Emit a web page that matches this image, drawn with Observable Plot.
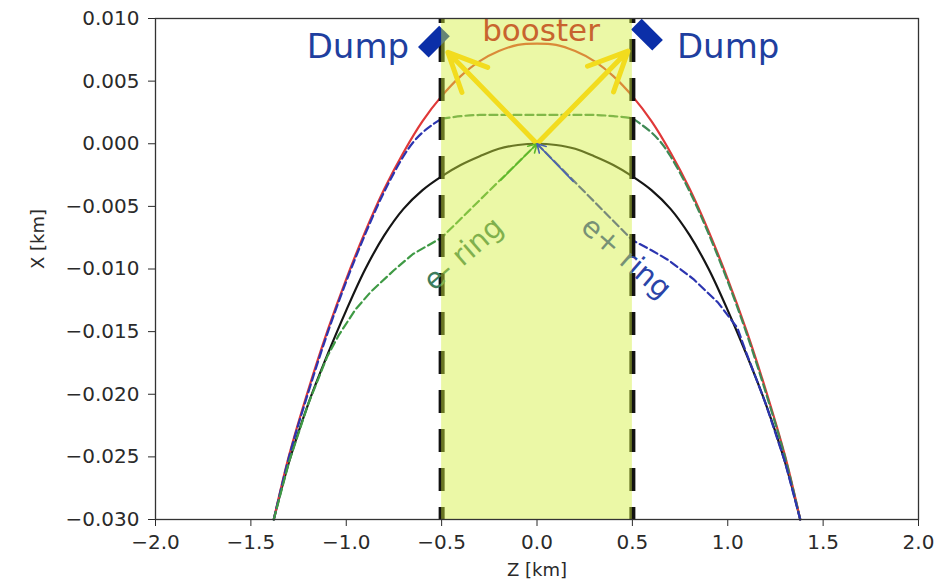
<!DOCTYPE html>
<html><head><meta charset="utf-8">
<script src="https://cdn.jsdelivr.net/npm/d3@7"></script>
<script src="https://cdn.jsdelivr.net/npm/@observablehq/plot@0.6"></script>
<style>body{margin:0;background:#fff;overflow:hidden;}</style>
</head><body><div id="chart"></div>
<script>
// ---- axis ticks ----
const xTicks = [-2.0, -1.5, -1.0, -0.5, 0.0, 0.5, 1.0, 1.5, 2.0];
const yTicks = [-0.030, -0.025, -0.020, -0.015, -0.010, -0.005, 0.000, 0.005, 0.010];

// ---- series: [Z km, X km] ----
const booster = [[-1.38,-0.0300],[-1.30,-0.0249],[-1.20,-0.0197],[-1.10,-0.0150],[-1.00,-0.0108],[-0.90,-0.0070],[-0.80,-0.0036],[-0.70,-0.0007],[-0.60,0.0018],[-0.50,0.0038],[-0.40,0.0054],[-0.30,0.0066],[-0.20,0.0074],[-0.10,0.0079],[0.00,0.0080],[0.10,0.0079],[0.20,0.0074],[0.30,0.0066],[0.40,0.0054],[0.50,0.0038],[0.60,0.0018],[0.70,-0.0007],[0.80,-0.0036],[0.90,-0.0070],[1.00,-0.0108],[1.10,-0.0150],[1.20,-0.0197],[1.30,-0.0249],[1.38,-0.0300]];
const mainRing = [[-1.38,-0.0300],[-1.30,-0.0254],[-1.20,-0.0208],[-1.10,-0.0169],[-1.00,-0.0133],[-0.90,-0.0100],[-0.80,-0.0073],[-0.70,-0.0052],[-0.60,-0.0037],[-0.50,-0.0026],[-0.40,-0.0017],[-0.30,-0.0010],[-0.20,-0.0004],[-0.10,-0.0001],[0.00,0.0000],[0.10,-0.0001],[0.20,-0.0004],[0.30,-0.0010],[0.40,-0.0017],[0.50,-0.0026],[0.60,-0.0037],[0.70,-0.0052],[0.80,-0.0073],[0.90,-0.0100],[1.00,-0.0133],[1.10,-0.0169],[1.20,-0.0208],[1.30,-0.0254],[1.38,-0.0300]];
const positronTop = [[-1.38,-0.0300],[-1.30,-0.0250],[-1.20,-0.0199],[-1.10,-0.0152],[-1.00,-0.0110],[-0.90,-0.0072],[-0.80,-0.0038],[-0.70,-0.0010],[-0.65,0.0001],[-0.60,0.0009],[-0.55,0.0015],[-0.50,0.0020]];
const electronTop = [[-0.50,0.0020],[-0.40,0.0022],[-0.30,0.0023],[-0.20,0.0023],[-0.10,0.0023],[0.00,0.0023],[0.10,0.0023],[0.20,0.0023],[0.30,0.0023],[0.40,0.0022],[0.50,0.0020],[0.55,0.0015],[0.60,0.0009],[0.65,0.0001],[0.70,-0.0010],[0.80,-0.0038],[0.90,-0.0072],[1.00,-0.0110],[1.10,-0.0152],[1.20,-0.0199],[1.30,-0.0250],[1.38,-0.0300]];
const electronRing = [[-1.38,-0.0300],[-1.30,-0.0254],[-1.20,-0.0208],[-1.10,-0.0170],[-1.04,-0.0153],[-0.95,-0.0132],[-0.87,-0.0118],[-0.75,-0.0101],[-0.65,-0.0088],[-0.50,-0.0075],[0.00,0.0000]];
const positronRing = [[0.00,0.0000],[0.50,-0.0077],[0.60,-0.0085],[0.69,-0.0093],[0.82,-0.0108],[0.95,-0.0127],[1.05,-0.0147],[1.10,-0.0168],[1.20,-0.0208],[1.30,-0.0254],[1.38,-0.0300]];

// ---- annotations ----
const bandZ = [-0.5, 0.5];
const boosterTips = [[-0.467, 0.0073], [0.477, 0.0074]];
const ringArrowStarts = [[-0.19, -0.0029], [0.19, -0.0030]];
const dumpBlocks = [[-0.596, 0.0073, -0.485, 0.0090], [0.521, 0.00955, 0.632, 0.00786]];
const dumpLabels = [["Dump", -0.939, 0.00775], ["Dump", 1.002, 0.00775]];
const boosterLabel = ["booster", 0.021, 0.0090];
const eMinusLabel = ["e- ring", -0.385, -0.0088];
const ePlusLabel = ["e+ ring", 0.467, -0.0091];

const lineOpts = (stroke, dash, curve = "catmull-rom") => ({x: d => d[0], y: d => d[1], stroke, strokeWidth: 2.2, curve, strokeDasharray: dash});

const chart = Plot.plot({
  width: 938, height: 587,
  marginLeft: 155, marginRight: 20, marginTop: 18, marginBottom: 68,
  style: {fontFamily: "DejaVu Sans", fontSize: "20px", color: "#2a2a2a", background: "#fff"},
  x: {domain: [-2, 2], ticks: xTicks, tickFormat: d3.format(".1f"), label: null, tickSize: 7, tickPadding: 8},
  y: {domain: [-0.03, 0.01], ticks: yTicks, tickFormat: d3.format(".3f"), label: null, tickSize: 7, tickPadding: 9},
  marks: [
    Plot.line(mainRing, lineOpts("#151515")),
    Plot.line(booster, lineOpts("#e03838")),
    Plot.line(positronTop, lineOpts("#2c35b0", "8,4")),
    Plot.line(electronTop, lineOpts("#3f8a55", "8,4")),
    Plot.line(electronRing, lineOpts("#3f9a45", "8,4", "linear")),
    Plot.line(positronRing, lineOpts("#2c35b0", "8,4", "linear")),
    Plot.ruleX(bandZ, {stroke: "#111", strokeWidth: 6, strokeDasharray: "23,16", strokeDashoffset: 18}),
    Plot.link(dumpBlocks, {x1: d => d[0], y1: d => d[1], x2: d => d[2], y2: d => d[3], stroke: "#0b2fa8", strokeWidth: 15, strokeLinecap: "butt"}),
    Plot.text([eMinusLabel], {x: d => d[1], y: d => d[2], text: d => d[0], rotate: -41, fill: "#3d7d5d", fontSize: 29, fontFamily: "DejaVu Sans"}),
    Plot.text([ePlusLabel], {x: d => d[1], y: d => d[2], text: d => d[0], rotate: 41, fill: "#2a44a8", fontSize: 29, fontFamily: "DejaVu Sans"}),
    Plot.rect([bandZ], {x1: d => d[0], x2: d => d[1], fill: "#d2f03a", fillOpacity: 0.45}),
    Plot.text([boosterLabel], {x: d => d[1], y: d => d[2], text: d => d[0], fill: "#c8642e", fontSize: 31, fontFamily: "DejaVu Sans"}),
    Plot.arrow(boosterTips, {x1: () => 0, y1: () => 0, x2: d => d[0], y2: d => d[1], stroke: "#f2dc1e", strokeWidth: 5, headLength: 13, headAngle: 50}),
    Plot.arrow(ringArrowStarts, {x1: d => d[0], y1: d => d[1], x2: () => 0, y2: () => 0, stroke: (d, i) => i === 0 ? "#5cb82a" : "#4a62b0", strokeWidth: 1.6, headLength: 9}),
    Plot.text(dumpLabels, {x: d => d[1], y: d => d[2], text: d => d[0], fill: "#1f3f9f", fontSize: 34, fontFamily: "DejaVu Sans"}),
    Plot.text(["Z [km]"], {frameAnchor: "bottom", dy: 56, text: d => d, fontSize: 18, fill: "#2a2a2a"}),
    Plot.text(["X [km]"], {frameAnchor: "left", dx: -117, rotate: -90, text: d => d, fontSize: 18, fill: "#2a2a2a"}),
    Plot.frame({stroke: "#333", strokeWidth: 1.3})
  ]
});
document.getElementById("chart").appendChild(chart);
</script>
</body></html>
